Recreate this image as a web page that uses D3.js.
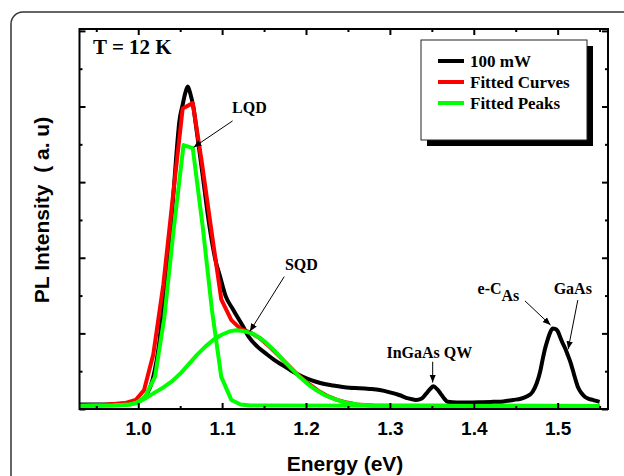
<!DOCTYPE html>
<html>
<head>
<meta charset="utf-8">
<title>PL spectrum</title>
<script src="https://cdn.jsdelivr.net/npm/d3@7"></script>
<style>
  body { margin: 0; background: #fff; }
  .serif { font-family: "Liberation Serif", "Times New Roman", serif; font-weight: bold; }
  .sans { font-family: "Liberation Sans", Arial, sans-serif; font-weight: bold; }
</style>
</head>
<body>
<svg width="624" height="476"></svg>
<script>
// measured spectrum, 100 mW, [energy eV, intensity a.u.]
var pl100 = [[0.93,0.12],[0.96,0.12],[0.98,0.14],[0.995,0.17],[1.003,0.22],[1.01,0.38],[1.017,0.77],
  [1.025,1.74],[1.031,3.06],[1.039,4.82],[1.045,6.59],[1.049,7.6],[1.053,8.05],[1.056,8.35],[1.059,8.53],
  [1.062,8.35],[1.066,7.95],[1.069,7.47],[1.077,6.15],[1.085,4.82],[1.093,3.85],[1.097,3.55],[1.104,3.0],
  [1.1125,2.65],[1.1245,2.2],[1.132,1.9],[1.142,1.65],[1.152,1.47],[1.162,1.3],[1.172,1.16],[1.182,1.02],
  [1.192,0.9],[1.202,0.8],[1.212,0.72],[1.222,0.66],[1.232,0.62],[1.252,0.56],[1.264,0.55],[1.276,0.53],
  [1.288,0.5],[1.30,0.44],[1.311,0.37],[1.322,0.28],[1.331,0.24],[1.338,0.28],[1.343,0.4],[1.348,0.53],
  [1.352,0.6],[1.356,0.53],[1.36,0.42],[1.365,0.27],[1.369,0.19],[1.38,0.17],[1.391,0.17],[1.41,0.18],
  [1.423,0.19],[1.435,0.2],[1.447,0.24],[1.456,0.27],[1.463,0.33],[1.47,0.45],[1.475,0.68],[1.479,0.98],
  [1.482,1.3],[1.485,1.6],[1.488,1.83],[1.491,2.02],[1.494,2.13],[1.497,2.12],[1.5,2.06],[1.503,1.9],
  [1.506,1.74],[1.509,1.6],[1.512,1.43],[1.515,1.25],[1.518,1.03],[1.521,0.8],[1.524,0.59],[1.528,0.43],
  [1.532,0.33],[1.537,0.27],[1.542,0.24],[1.545,0.22],[1.55,0.19]];

// sum of fitted peaks
var fitSum = [[0.93,0.1],[0.96,0.11],[0.985,0.16],[0.997,0.24],[1.007,0.5],[1.018,1.45],[1.03,3.3],
  [1.041,5.55],[1.053,7.95],[1.065,8.09],[1.076,6.5],[1.088,4.6],[1.099,2.9],[1.111,2.35],[1.122,2.12],
  [1.134,2.02],[1.145,1.87],[1.157,1.64],[1.168,1.4],[1.18,1.13],[1.191,0.89],[1.203,0.67],[1.214,0.49],
  [1.226,0.34],[1.237,0.24],[1.249,0.17],[1.26,0.12],[1.28,0.09],[1.55,0.08]];

// fitted peaks
var peakLQD = [[0.93,0.08],[0.97,0.09],[0.988,0.11],[0.997,0.15],[1.008,0.32],[1.02,0.85],[1.031,2.4],
  [1.042,4.7],[1.054,6.98],[1.065,6.9],[1.077,4.8],[1.088,2.6],[1.099,0.85],[1.111,0.24],[1.122,0.12],
  [1.134,0.09],[1.55,0.08]];
var peakSQD = [[0.93,0.08],[0.97,0.09],[0.99,0.12],[1.0,0.18],[1.01,0.3],[1.02,0.44],[1.03,0.57],
  [1.04,0.73],[1.05,0.93],[1.06,1.18],[1.07,1.43],[1.08,1.65],[1.09,1.84],[1.1,1.97],[1.11,2.06],
  [1.117,2.08],[1.125,2.06],[1.136,2.0],[1.145,1.88],[1.152,1.76],[1.162,1.55],[1.172,1.31],[1.182,1.08],
  [1.192,0.86],[1.202,0.66],[1.212,0.5],[1.222,0.37],[1.232,0.28],[1.242,0.2],[1.252,0.15],[1.264,0.11],
  [1.28,0.09],[1.3,0.08],[1.55,0.08]];

var xMajor = [1.0, 1.1, 1.2, 1.3, 1.4, 1.5];
var xMinor = [0.95, 1.05, 1.15, 1.25, 1.35, 1.45, 1.55];
var yMajor = [0, 2, 4, 6, 8, 10];
var yMinor = [1, 3, 5, 7, 9];

var legendItems = [
  {label: "100 mW", color: "#000000"},
  {label: "Fitted Curves", color: "#ff0000"},
  {label: "Fitted Peaks", color: "#00ff00"}
];

// label anchor (middle) and arrow, in data units
var notes = [
  {text: "LQD", x: 1.1325, y: 7.83, from: [1.1125, 7.62], to: [1.066, 6.92]},
  {text: "SQD", x: 1.1945, y: 3.68, from: [1.174, 3.5], to: [1.133, 2.05]},
  {text: "InGaAs QW", x: 1.347, y: 1.35, from: [1.351, 1.25], to: [1.351, 0.7]},
  {text: "GaAs", x: 1.518, y: 3.05, from: [1.524, 2.88], to: [1.5125, 1.58]}
];

var m = {left: 79.5, right: 608, top: 29, bottom: 409};
var svg = d3.select("svg");

// outer panel border
svg.append("rect").attr("x", 11).attr("y", 12).attr("width", 660).attr("height", 520)
  .attr("rx", 12).attr("fill", "none").attr("stroke", "#333").attr("stroke-width", 1.5);

var x = d3.scaleLinear().domain([0.93, 1.56]).range([m.left, m.right]);
var y = d3.scaleLinear().domain([0, 10.05]).range([m.bottom, m.top]);

var line = d3.line().x(function(d){ return x(d[0]); }).y(function(d){ return y(d[1]); });
var smooth = d3.line().curve(d3.curveMonotoneX).x(function(d){ return x(d[0]); }).y(function(d){ return y(d[1]); });

var plot = svg.append("g");
plot.append("path").datum(pl100).attr("d", smooth)
  .attr("fill", "none").attr("stroke", "#000").attr("stroke-width", 4).attr("stroke-linejoin", "round");
plot.append("path").datum(fitSum).attr("d", line)
  .attr("fill", "none").attr("stroke", "#ff0000").attr("stroke-width", 4).attr("stroke-linejoin", "round");
[peakLQD, peakSQD].forEach(function(p){
  plot.append("path").datum(p).attr("d", line)
    .attr("fill", "none").attr("stroke", "#00ff00").attr("stroke-width", 4).attr("stroke-linejoin", "round");
});

// axes with inward ticks
function axisStyle(g) {
  g.select(".domain").remove();
  g.selectAll(".tick line").attr("stroke", "#000").attr("stroke-width", 2);
}
svg.append("g").attr("transform", "translate(0," + m.bottom + ")")
  .call(d3.axisBottom(x).tickValues(xMajor).tickSize(-6).tickPadding(13).tickFormat(d3.format(".1f")))
  .call(axisStyle)
  .selectAll("text").attr("class", "sans").style("font-size", "19px").attr("fill", "#000");
svg.append("g").attr("transform", "translate(0," + m.bottom + ")")
  .call(d3.axisBottom(x).tickValues(xMinor).tickSize(-3).tickFormat(""))
  .call(axisStyle);
svg.append("g").attr("transform", "translate(0," + m.top + ")")
  .call(d3.axisTop(x).tickValues(xMajor).tickSize(-6).tickFormat("")).call(axisStyle);
svg.append("g").attr("transform", "translate(0," + m.top + ")")
  .call(d3.axisTop(x).tickValues(xMinor).tickSize(-3).tickFormat("")).call(axisStyle);
svg.append("g").attr("transform", "translate(" + m.left + ",0)")
  .call(d3.axisLeft(y).tickValues(yMajor).tickSize(-6).tickFormat("")).call(axisStyle);
svg.append("g").attr("transform", "translate(" + m.left + ",0)")
  .call(d3.axisLeft(y).tickValues(yMinor).tickSize(-3).tickFormat("")).call(axisStyle);
svg.append("g").attr("transform", "translate(" + m.right + ",0)")
  .call(d3.axisRight(y).tickValues(yMajor).tickSize(-6).tickFormat("")).call(axisStyle);
svg.append("g").attr("transform", "translate(" + m.right + ",0)")
  .call(d3.axisRight(y).tickValues(yMinor).tickSize(-3).tickFormat("")).call(axisStyle);

svg.append("rect").attr("x", m.left).attr("y", m.top)
  .attr("width", m.right - m.left).attr("height", m.bottom - m.top)
  .attr("fill", "none").attr("stroke", "#000").attr("stroke-width", 2);

// axis titles
svg.append("text").attr("class", "sans").attr("x", 345).attr("y", 471)
  .attr("text-anchor", "middle").style("font-size", "21px").text("Energy (eV)");
svg.append("text").attr("class", "sans").attr("transform", "translate(49,210) rotate(-90)")
  .attr("text-anchor", "middle").style("font-size", "21px").style("white-space", "pre")
  .text("PL Intensity  ( a. u)");

svg.append("text").attr("class", "serif").attr("x", 93).attr("y", 54)
  .style("font-size", "21px").text("T = 12 K");

// legend
var lg = svg.append("g");
lg.append("rect").attr("x", 427).attr("y", 46).attr("width", 166).attr("height", 100).attr("fill", "#000");
lg.append("rect").attr("x", 421).attr("y", 40).attr("width", 166).attr("height", 100)
  .attr("fill", "#fff").attr("stroke", "#222").attr("stroke-width", 1);
legendItems.forEach(function(d, i){
  var yy = 61 + i * 21;
  lg.append("line").attr("x1", 438).attr("x2", 464).attr("y1", yy).attr("y2", yy)
    .attr("stroke", d.color).attr("stroke-width", 4);
  lg.append("text").attr("class", "serif").attr("x", 470).attr("y", yy + 6)
    .style("font-size", "17px").text(d.label);
});

// annotations
var defs = svg.append("defs");
defs.append("marker").attr("id", "arr").attr("viewBox", "0 0 10 10")
  .attr("refX", 10).attr("refY", 5).attr("markerWidth", 8).attr("markerHeight", 8)
  .attr("orient", "auto").attr("markerUnits", "userSpaceOnUse")
  .append("path").attr("d", "M0,1 L10,5 L0,9 Z").attr("fill", "#000");

function arrow(from, to) {
  svg.append("line").attr("x1", x(from[0])).attr("y1", y(from[1]))
    .attr("x2", x(to[0])).attr("y2", y(to[1]))
    .attr("stroke", "#000").attr("stroke-width", 1).attr("marker-end", "url(#arr)");
}
notes.forEach(function(n){
  svg.append("text").attr("class", "serif").attr("x", x(n.x)).attr("y", y(n.y))
    .attr("text-anchor", "middle").style("font-size", "16px").text(n.text);
  arrow(n.from, n.to);
});

// e-C_As label with subscript
var ec = svg.append("text").attr("class", "serif").attr("x", x(1.4045)).attr("y", y(3.05))
  .style("font-size", "16px");
ec.append("tspan").text("e-C");
ec.append("tspan").attr("dy", 7).text("As");
arrow([1.461, 2.86], [1.4915, 2.22]);
</script>
</body>
</html>
